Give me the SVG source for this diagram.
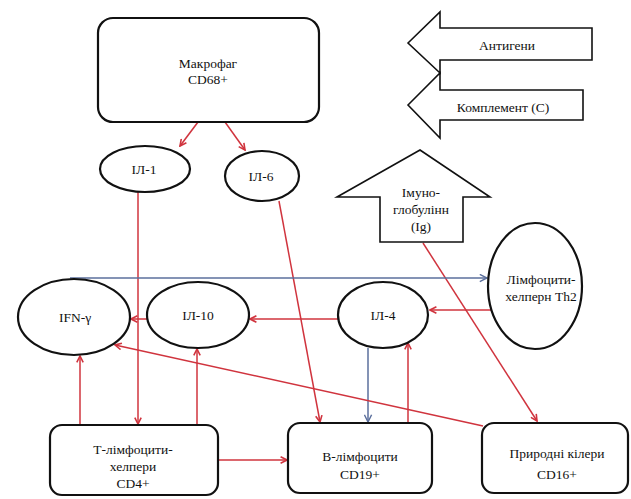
<svg xmlns="http://www.w3.org/2000/svg" width="631" height="499" viewBox="0 0 631 499">
<style>
text{font-family:"Liberation Serif","Times New Roman",serif;font-size:13.5px;fill:#111;text-anchor:middle}
.box{fill:#fff;stroke:#111;stroke-width:2.2}
.ell{fill:#fff;stroke:#111;stroke-width:2.2}
.shp{fill:#fff;stroke:#111;stroke-width:1.6}
.r{stroke:#d0343e;stroke-width:1.5;fill:none}
.b{stroke:#5b6f9c;stroke-width:1.5;fill:none}
</style>
<defs>
<marker id="ar" viewBox="0 0 10 10" refX="9" refY="5" markerWidth="8" markerHeight="8" markerUnits="userSpaceOnUse" orient="auto">
<path d="M1,1 L9,5 L1,9" fill="none" stroke="#d0343e" stroke-width="2"/>
</marker>
<marker id="ab" viewBox="0 0 10 10" refX="9" refY="5" markerWidth="9" markerHeight="9" markerUnits="userSpaceOnUse" orient="auto">
<path d="M1,1 L9,5 L1,9" fill="none" stroke="#5b6f9c" stroke-width="1.6"/>
</marker>
</defs>
<g id="connectors">
<line class="r" x1="198" y1="122" x2="180" y2="146" marker-end="url(#ar)"/>
<line class="r" x1="225" y1="122" x2="245" y2="150" marker-end="url(#ar)"/>
<line class="r" x1="138" y1="192" x2="138" y2="424" marker-end="url(#ar)"/>
<line class="r" x1="279" y1="201" x2="320" y2="422" marker-end="url(#ar)"/>
<line class="r" x1="423" y1="243" x2="537" y2="421" marker-end="url(#ar)"/>
<line class="b" x1="70" y1="278" x2="487" y2="278" marker-end="url(#ab)"/>
<line class="r" x1="147" y1="319" x2="131" y2="319" marker-end="url(#ar)"/>
<line class="r" x1="338" y1="319" x2="250" y2="319" marker-end="url(#ar)"/>
<line class="r" x1="493" y1="310" x2="430" y2="310" marker-end="url(#ar)"/>
<line class="r" x1="80" y1="425" x2="80" y2="356" marker-end="url(#ar)"/>
<line class="r" x1="197" y1="425" x2="197" y2="349" marker-end="url(#ar)"/>
<line class="r" x1="218" y1="460" x2="287" y2="460" marker-end="url(#ar)"/>
<line class="b" x1="368" y1="348" x2="368" y2="422" marker-end="url(#ab)"/>
<line class="r" x1="408" y1="423" x2="408" y2="343" marker-end="url(#ar)"/>
<line class="r" x1="483" y1="426" x2="115" y2="345" marker-end="url(#ar)"/>
</g>
<g id="macrophage">
<rect class="box" x="98" y="18" width="221" height="104" rx="15"/>
<text x="208" y="68">Макрофаг</text>
<text x="208" y="84">CD68+</text>
</g>
<g id="antigens">
<path class="shp" d="M408,43 L440,12 L440,28 L592,28 L592,60 L440,60 L440,73 Z"/>
<text x="507" y="50">Антигени</text>
</g>
<g id="complement">
<path class="shp" d="M408,105 L440,73 L440,90 L583,90 L583,120 L440,120 L440,138 Z"/>
<text x="503" y="112">Комплемент (С)</text>
</g>
<g id="il1">
<ellipse class="ell" cx="145" cy="169" rx="45" ry="23"/>
<text x="144" y="174">ІЛ-1</text>
</g>
<g id="il6">
<ellipse class="ell" cx="262" cy="176" rx="37" ry="25"/>
<text x="261" y="181">ІЛ-6</text>
</g>
<g id="ig">
<path class="shp" d="M420,150 L490,197 L463,197 L463,242 L380,242 L380,197 L337,197 Z"/>
<text x="421" y="197">Імуно-</text>
<text x="421" y="214">глобулінн</text>
<text x="421" y="231">(Ig)</text>
</g>
<g id="th2">
<ellipse class="ell" cx="535" cy="286" rx="47" ry="63"/>
<text x="541" y="284">Лімфоцити-</text>
<text x="541" y="301">хелперн Th2</text>
</g>
<g id="ifng">
<ellipse class="ell" cx="74" cy="317" rx="56" ry="38"/>
<text x="75" y="322">IFN-γ</text>
</g>
<g id="il10">
<ellipse class="ell" cx="198" cy="315" rx="51" ry="33"/>
<text x="198" y="320">ІЛ-10</text>
</g>
<g id="il4">
<ellipse class="ell" cx="383" cy="315" rx="45" ry="33"/>
<text x="383" y="320">ІЛ-4</text>
</g>
<g id="tlymph">
<rect class="box" x="50" y="425" width="168" height="70" rx="12"/>
<text x="133" y="454">Т-лімфоцити-</text>
<text x="133" y="471">хелпери</text>
<text x="133" y="488">CD4+</text>
</g>
<g id="blymph">
<rect class="box" x="288" y="423" width="144" height="70" rx="12"/>
<text x="360" y="461">В-лімфоцити</text>
<text x="360" y="479">CD19+</text>
</g>
<g id="nk">
<rect class="box" x="482" y="423" width="146" height="70" rx="12"/>
<text x="557" y="458">Природні кілери</text>
<text x="557" y="479">CD16+</text>
</g>
</svg>
